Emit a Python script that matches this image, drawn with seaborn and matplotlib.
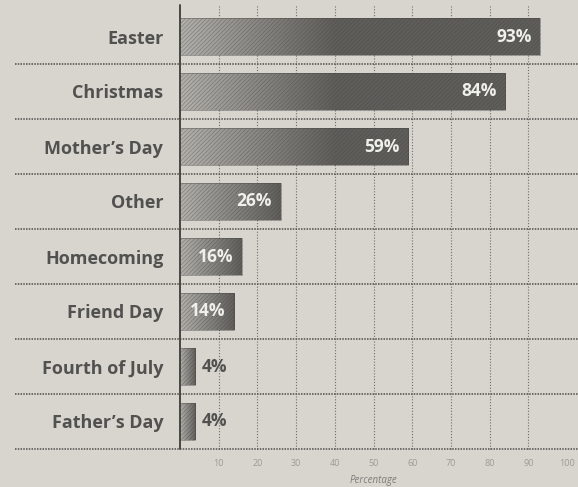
import numpy as np
import matplotlib.pyplot as plt
import seaborn as sns
from matplotlib.colors import LinearSegmentedColormap

# ---------------------------------------------------------------------------
# Data
# ---------------------------------------------------------------------------

HOLIDAYS = ["Easter", "Christmas", "Mother’s Day", "Other",
            "Homecoming", "Friend Day", "Fourth of July", "Father’s Day"]
PERCENTS = [93, 84, 59, 26, 16, 14, 4, 4]
X_TICKS = [10, 20, 30, 40, 50, 60, 70, 80, 90, 100]
X_LABEL = "Percentage"

PAPER = "#d8d5cf"
INK = "#515150"
LIGHT_BAR = "#b3b1ac"
DARK_BAR = "#5f5e5a"

sns.set_theme(style="white")
plt.rcParams["font.family"] = ["Open Sans", "DejaVu Sans"]
plt.rcParams["hatch.linewidth"] = 0.45

fig = plt.figure(figsize=(5.78, 4.87), dpi=100, facecolor=PAPER)
ax = fig.add_axes([180 / 578, 38 / 487, 387 / 578, 440 / 487])
ax.set_facecolor(PAPER)

sns.barplot(x=PERCENTS, y=HOLIDAYS, orient="h", width=0.67,
            color=LIGHT_BAR, ax=ax, zorder=3)

# gradient fill + fine diagonal hatch on every bar
cmap = LinearSegmentedColormap.from_list("bar", [LIGHT_BAR, DARK_BAR])
for patch, val in zip(ax.patches, PERCENTS):
    y0, h = patch.get_y(), patch.get_height()
    ramp = min(val, 40)
    xs = np.linspace(0, val, 300)
    t = np.clip(xs / ramp, 0, 1)
    im = ax.imshow(t[None, :], extent=[0, val, y0 + h, y0], aspect="auto",
                   cmap=cmap, vmin=0, vmax=1, zorder=2, interpolation="bilinear")
    im.set_clip_path(patch)
    patch.set_facecolor("none")
    patch.set_hatch("////////")
    patch.set_edgecolor((0.25, 0.25, 0.25, 0.45))
    patch.set_linewidth(0.6)

    cy = y0 + h / 2
    if val >= 10:
        ax.text(val - 2.2, cy, f"{val}%", ha="right", va="center",
                fontsize=12.5, fontweight="bold", color="#efefec", zorder=5)
    else:
        ax.text(val + 1.6, cy, f"{val}%", ha="left", va="center",
                fontsize=12.5, fontweight="bold", color=INK, zorder=5)

# dotted vertical grid
for t in X_TICKS[:-1]:
    ax.axvline(t, ymin=0, ymax=1.01, color="#6e6e6b", lw=0.8,
               linestyle=(0, (1, 1.6)), zorder=1, clip_on=False)

# row separators and bottom rule, running out under the labels
for b in np.arange(0.5, len(HOLIDAYS), 1.0):
    ax.axhline(b, xmin=-165 / 387, xmax=1.03, color="#4e4e4c", lw=1.1,
               linestyle=(0, (1, 0.8)), zorder=1, clip_on=False)

# solid axis at zero
ax.axvline(0, ymin=0, ymax=1.01, color="#474745", lw=1.4, zorder=4, clip_on=False)

ax.set_xlim(0, 100)
ax.set_ylim(len(HOLIDAYS) - 0.5, -0.5)
ax.set_xticks(X_TICKS)
ax.set_xticklabels([str(t) for t in X_TICKS], fontsize=6.5, color="#9b9a96")
ax.tick_params(axis="x", length=0, pad=7)
ax.set_yticks(range(len(HOLIDAYS)))
ax.set_yticklabels(HOLIDAYS, fontsize=13, fontweight="bold", color=INK)
ax.tick_params(axis="y", length=0, pad=12)
ax.set_xlabel(X_LABEL, fontsize=7, style="italic", color="#7d7c78", labelpad=5)
ax.set_ylabel("")
sns.despine(ax=ax, left=True, bottom=True)

fig.savefig("out.png", dpi=100, facecolor=PAPER)
